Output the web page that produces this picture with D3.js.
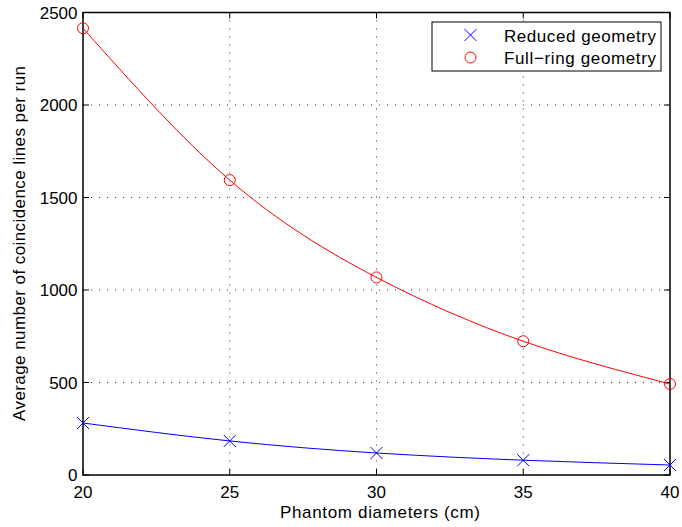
<!DOCTYPE html>
<html><head><meta charset="utf-8">
<script src="https://cdn.jsdelivr.net/npm/d3@7"></script>
<style>body{margin:0;background:#fff}svg{display:block}text{font-family:"Liberation Sans",Arial,sans-serif;fill:#000}</style>
</head><body><svg id="c" width="682" height="527"></svg>
<script>
const diameters = [20, 25, 30, 35, 40];
const reduced = [281, 184, 119, 80, 54];
const fullRing = [2415, 1594, 1068, 723, 492];
const xTicks = [20, 25, 30, 35, 40];
const yTicks = [0, 500, 1000, 1500, 2000, 2500];
const seriesNames = ["Reduced geometry", "Full\u2212ring geometry"];

const svg = d3.select("#c");
const L = 83, R = 670, T = 12.5, B = 475;
const x = d3.scaleLinear().domain([20, 40]).range([L, R]);
const y = d3.scaleLinear().domain([0, 2500]).range([B, T]);
const FS = 17;

// grid
const g = svg.append("g");
g.selectAll(".vg").data(xTicks.slice(1, -1)).enter().append("line")
  .attr("x1", d => x(d)).attr("x2", d => x(d)).attr("y1", T).attr("y2", B)
  .attr("stroke", "#333").attr("stroke-width", 1).attr("stroke-dasharray", "1,7");
g.selectAll(".hg").data(yTicks.slice(1, -1)).enter().append("line")
  .attr("y1", d => y(d)).attr("y2", d => y(d)).attr("x1", L).attr("x2", R)
  .attr("stroke", "#333").attr("stroke-width", 1).attr("stroke-dasharray", "1,7");

// box
svg.append("rect").attr("x", L).attr("y", T).attr("width", R - L).attr("height", B - T)
  .attr("fill", "none").attr("stroke", "#000").attr("stroke-width", 1.5);

// ticks inside
const tl = 6;
xTicks.forEach(d => {
  svg.append("line").attr("x1", x(d)).attr("x2", x(d)).attr("y1", B).attr("y2", B - tl).attr("stroke", "#000");
  svg.append("line").attr("x1", x(d)).attr("x2", x(d)).attr("y1", T).attr("y2", T + tl).attr("stroke", "#000");
  svg.append("text").attr("x", x(d)).attr("y", 497.5).attr("text-anchor", "middle").attr("font-size", FS).text(d);
});
yTicks.forEach(d => {
  svg.append("line").attr("y1", y(d)).attr("y2", y(d)).attr("x1", L).attr("x2", L + tl).attr("stroke", "#000");
  svg.append("line").attr("y1", y(d)).attr("y2", y(d)).attr("x1", R).attr("x2", R - tl).attr("stroke", "#000");
  svg.append("text").attr("x", 77.5).attr("y", y(d) + 6).attr("text-anchor", "end").attr("font-size", FS).text(d);
});

// labels
svg.append("text").attr("x", 380).attr("y", 518).attr("text-anchor", "middle").attr("font-size", FS)
  .attr("textLength", 200).attr("lengthAdjust", "spacing").text("Phantom diameters (cm)");
svg.append("text").attr("transform", "translate(25,243.5) rotate(-90)")
  .attr("text-anchor", "middle").attr("font-size", FS)
  .attr("textLength", 355).attr("lengthAdjust", "spacing").text("Average number of coincidence lines per run");

// lines
const line = vals => d3.line().x((d, i) => x(diameters[i])).y(d => y(d)).curve(d3.curveNatural)(vals);
svg.append("path").attr("d", line(fullRing)).attr("fill", "none").attr("stroke", "#ff0000").attr("stroke-width", 1);
svg.append("path").attr("d", line(reduced)).attr("fill", "none").attr("stroke", "#0000ff").attr("stroke-width", 1);

// markers
const cross = (sel, cx, cy, s, col) => {
  sel.append("path").attr("d", `M${cx - s},${cy - s}L${cx + s},${cy + s}M${cx - s},${cy + s}L${cx + s},${cy - s}`)
    .attr("stroke", col).attr("stroke-width", 1).attr("fill", "none");
};
reduced.forEach((v, i) => cross(svg, x(diameters[i]), y(v), 6, "#0000ff"));
fullRing.forEach((v, i) => svg.append("circle").attr("cx", x(diameters[i])).attr("cy", y(v)).attr("r", 5.5)
  .attr("fill", "none").attr("stroke", "#ff0000").attr("stroke-width", 1));

// legend
const lg = svg.append("g");
lg.append("rect").attr("x", 432).attr("y", 22).attr("width", 229).attr("height", 49)
  .attr("fill", "#fff").attr("stroke", "#000").attr("stroke-width", 1);
cross(lg, 470.5, 35, 6, "#0000ff");
lg.append("circle").attr("cx", 470.5).attr("cy", 57.5).attr("r", 5.5).attr("fill", "none").attr("stroke", "#ff0000");
lg.append("text").attr("x", 504).attr("y", 41.5).attr("font-size", FS)
  .attr("textLength", 152).attr("lengthAdjust", "spacing").text(seriesNames[0]);
lg.append("text").attr("x", 504).attr("y", 64).attr("font-size", FS)
  .attr("textLength", 152).attr("lengthAdjust", "spacing").text(seriesNames[1]);
</script></body></html>
